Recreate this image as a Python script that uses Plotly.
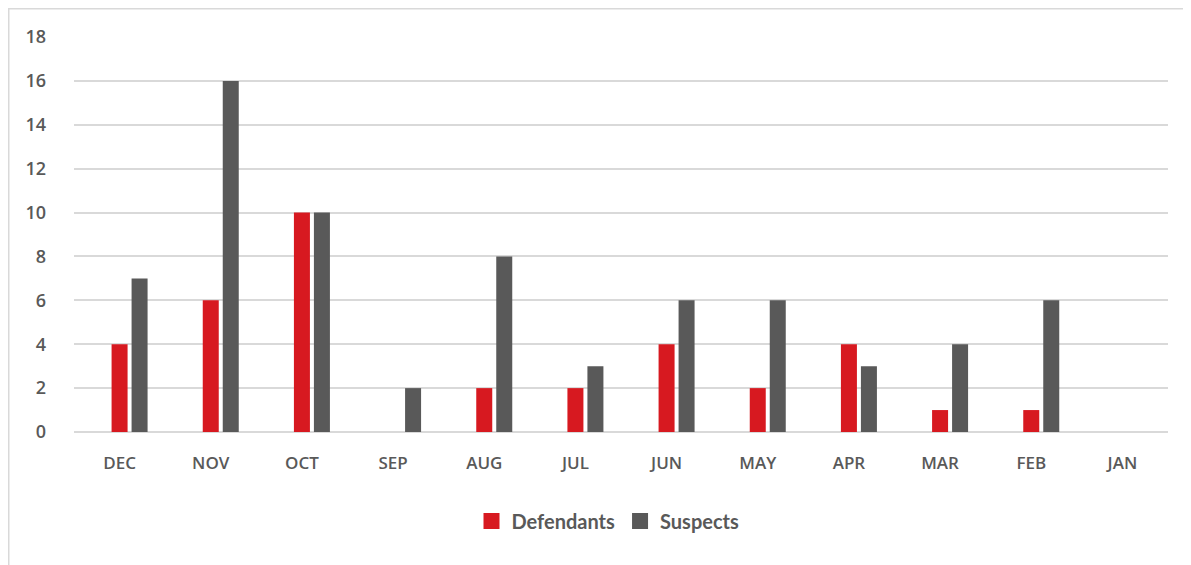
import plotly.graph_objects as go

months = ["DEC", "NOV", "OCT", "SEP", "AUG", "JUL", "JUN", "MAY", "APR", "MAR", "FEB", "JAN"]
defendants = [4, 6, 10, 0, 2, 2, 4, 2, 4, 1, 1, 0]
suspects = [7, 16, 10, 2, 8, 3, 6, 6, 3, 4, 6, 0]
y_ticks = [0, 2, 4, 6, 8, 10, 12, 14, 16, 18]
series_names = ["Defendants", "Suspects"]
series_colors = ["#D71920", "#595959"]

W, H = 1191, 565
OFF = 8  # page offset of the figure
L, T = 74 - OFF, 37 - OFF
pw, ph = 1094, 395
R = W - L - pw
B = H - T - ph
cat_px = pw / len(months)
bw = 16 / cat_px

fig = go.Figure()
for vals, name, col, off in zip([defendants, suspects], series_names, series_colors, [-8, 12]):
    fig.add_trace(go.Bar(x=months, y=vals, name=name, legendgroup=name, showlegend=False,
                         marker=dict(color=col, line=dict(width=0)),
                         width=bw, offset=off / cat_px))
# legend-only entries with larger square swatches
for name, col in zip(series_names, series_colors):
    fig.add_trace(go.Scatter(x=[None], y=[None], mode="markers", name=name, legendgroup=name,
                             marker=dict(symbol="square", size=16, color=col)))

fig.update_layout(
    width=W, height=H,
    margin=dict(l=L, r=R, t=T, b=B),
    barmode="overlay",
    plot_bgcolor="white", paper_bgcolor="white",
    font=dict(family="Open Sans", color="#595959"),
    xaxis=dict(showgrid=False, showline=False, ticks="",
               tickfont=dict(family="Open Sans", size=17, color="#595959", weight=600),
               ticklabelstandoff=19),
    yaxis=dict(range=[0, 18], tickvals=y_ticks, showgrid=True,
               gridcolor="#d9d9d9", gridwidth=2, zeroline=True,
               zerolinecolor="#d9d9d9", zerolinewidth=2, showline=False,
               tickfont=dict(family="Open Sans", size=18, color="#595959", weight=600),
               ticklabelstandoff=27),
    legend=dict(orientation="h", x=(608 - OFF - L) / pw, xanchor="center",
                y=-(521 - OFF - (T + ph)) / ph, yanchor="middle",
                font=dict(family="Lato", size=20, color="#595959", weight="bold"),
                itemwidth=30, traceorder="normal"),
    showlegend=True,
)

fig.add_shape(type="rect", xref="paper", yref="paper",
              x0=(-L + 0.5) / pw, x1=1.2, y0=-0.6, y1=(T + ph - 0.5) / ph,
              line=dict(color="#d9d9d9", width=2), layer="below")

fig.write_html("out.html")
